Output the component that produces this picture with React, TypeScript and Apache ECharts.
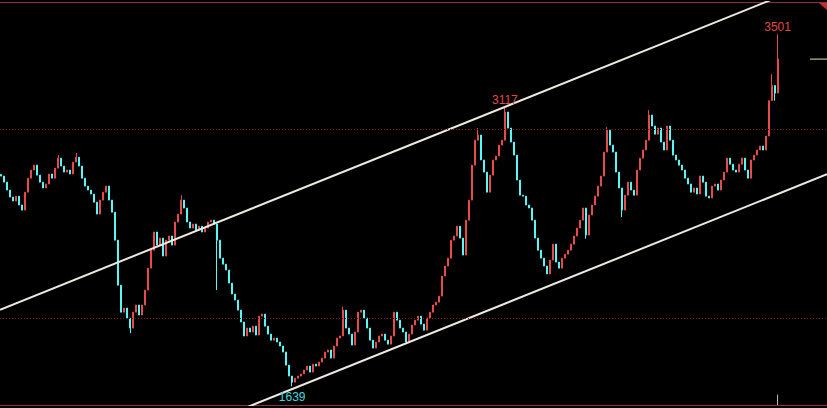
import React, { useEffect, useRef } from 'react';
import * as echarts from 'echarts';

// Closing prices, one per candle
const closes = [
  2751, 2719, 2677, 2640, 2619, 2645, 2598, 2571, 2666, 2740,
  2783, 2809, 2756, 2719, 2688, 2709, 2762, 2740, 2793, 2846,
  2804, 2772, 2783, 2762, 2825, 2851, 2804, 2740, 2698, 2677,
  2656, 2613, 2550, 2624, 2666, 2698, 2624, 2560, 2412, 2174,
  2031, 2053, 2000, 1947, 2031, 2069, 2016, 2069, 2148, 2264,
  2359, 2455, 2386, 2423, 2328, 2412, 2434, 2386, 2508, 2550,
  2624, 2582, 2508, 2476, 2497, 2465, 2486, 2455, 2476, 2508,
  2518, 2497, 2412, 2317, 2285, 2254, 2185, 2127, 2095, 2042,
  1979, 1905, 1947, 1926, 1957, 1910, 2010, 2021, 1957, 1915,
  1883, 1894, 1873, 1852, 1820, 1751, 1693, 1661, 1682, 1693,
  1704, 1725, 1746, 1714, 1756, 1746, 1767, 1788, 1820, 1831,
  1788, 1852, 1894, 1905, 2042, 1947, 1915, 1857, 1926, 2031,
  2042, 2000, 1947, 1883, 1841, 1873, 1905, 1915, 1883, 1862,
  1905, 2031, 1989, 1947, 1926, 1873, 1915, 1963, 1989, 2010,
  1968, 1936, 2000, 2031, 2069, 2084, 2116, 2222, 2275, 2317,
  2412, 2434, 2486, 2423, 2333, 2518, 2624, 2809, 2941, 2968,
  2836, 2772, 2666, 2756, 2836, 2857, 2915, 2941, 3090, 3005,
  2931, 2862, 2730, 2650, 2645, 2598, 2582, 2518, 2423, 2359,
  2317, 2275, 2233, 2307, 2391, 2296, 2264, 2317, 2338, 2359,
  2391, 2434, 2476, 2518, 2582, 2439, 2545, 2598, 2645, 2698,
  2751, 2878, 2994, 2915, 2878, 2772, 2688, 2571, 2650, 2719,
  2677, 2650, 2783, 2846, 2889, 2941, 3074, 3016, 2973, 3005,
  2931, 2889, 3016, 2941, 2862, 2836, 2809, 2783, 2740, 2709,
  2666, 2688, 2656, 2751, 2719, 2645, 2635, 2698, 2709, 2677,
  2730, 2772, 2846, 2814, 2783, 2772, 2814, 2846, 2783, 2740,
  2836, 2862, 2889, 2910, 2889, 2963, 3150, 3230, 3190, 3370,
];
const firstOpen = 2760;

// Wicks that stand out beyond the bodies
const highIdx = [19, 25, 60, 114, 159, 168, 202, 216, 257, 259];
const highVal = [2862, 2873, 2650, 2060, 3005, 3117, 3010, 3100, 3290, 3501];
const lowIdx = [43, 72, 97, 195, 207, 258];
const lowVal = [1920, 2148, 1639, 2420, 2534, 3150];

// Labelled extremes
const markIdx = [97, 168, 259];
const markVal = [1639, 3117, 3501];

// Dotted reference levels
const levels = [2000, 3000];

// Channel lines: [candle index, price]
const upperTrend = [[-0.5, 2044], [275.5, 3802]];
const lowerTrend = [[-0.5, 1003], [275.5, 2761]];

const slotCount = 276;
const yMin = 1540;
const yMax = 3672;

const UP = '#e84a4a';
const DOWN = '#54f8f8';
const BORDER = '#8a3040';

export default function App() {
  const ref = useRef<HTMLDivElement>(null);
  useEffect(() => {
    document.body.style.margin = '0';
    document.body.style.background = '#000';
    const chart = echarts.init(ref.current!, null, { renderer: 'svg' });
    const ohlc = closes.map((c, i) => {
      const o = i === 0 ? firstOpen : closes[i - 1];
      let lo = Math.min(o, c);
      let hi = Math.max(o, c);
      const hk = highIdx.indexOf(i);
      if (hk >= 0) hi = Math.max(hi, highVal[hk]);
      const lk = lowIdx.indexOf(i);
      if (lk >= 0) lo = Math.min(lo, lowVal[lk]);
      return [o, c, lo, hi];
    });
    const lastIdx = closes.length - 1;
    const lastClose = closes[lastIdx];
    const categories = Array.from({ length: slotCount }, (_, i) => String(i));

    chart.setOption({
      animation: false,
      backgroundColor: '#000',
      grid: { left: 0, right: 0, top: 2, bottom: 3, containLabel: false },
      xAxis: [
        {
          type: 'category',
          data: categories,
          boundaryGap: true,
          position: 'bottom',
          axisLine: { show: true, onZero: false, lineStyle: { color: BORDER, width: 1 } },
          axisTick: { show: false },
          axisLabel: { show: false },
          splitLine: { show: false },
        },
        {
          type: 'value',
          min: -0.5,
          max: slotCount - 0.5,
          position: 'top',
          axisLine: { show: true, onZero: false, lineStyle: { color: BORDER, width: 1 } },
          axisTick: { show: false },
          axisLabel: { show: false },
          splitLine: { show: false },
        },
      ],
      yAxis: {
        type: 'value',
        min: yMin,
        max: yMax,
        show: false,
        splitLine: { show: false },
      },
      series: [
        {
          type: 'candlestick',
          xAxisIndex: 0,
          data: ohlc,
          barMaxWidth: 2,
          itemStyle: {
            color: UP,
            color0: DOWN,
            borderColor: UP,
            borderColor0: DOWN,
            borderWidth: 1,
          },
          markLine: {
            silent: true,
            symbol: 'none',
            label: { show: false },
            lineStyle: { color: '#7a1c1c', type: [1, 2], width: 1 },
            data: levels.map((v) => ({ yAxis: v })),
          },
          markPoint: {
            silent: true,
            symbol: 'circle',
            symbolSize: 0,
            data: markIdx.map((idx, k) => ({
              coord: [idx, markVal[k]],
              value: markVal[k],
              label: {
                show: true,
                formatter: String(markVal[k]),
                position: k === 0 ? 'bottom' : 'top',
                distance: k === 0 ? 5 : 1,
                color: k === 0 ? '#3fdcdc' : '#e04848',
                fontFamily: 'Liberation Sans, Arial, sans-serif',
                fontSize: 12,
              },
            })),
          },
        },
        {
          type: 'line',
          xAxisIndex: 1,
          data: upperTrend,
          symbol: 'none',
          silent: true,
          clip: true,
          lineStyle: { color: '#eee8e0', width: 2 },
        },
        {
          type: 'line',
          xAxisIndex: 1,
          data: lowerTrend,
          symbol: 'none',
          silent: true,
          clip: true,
          lineStyle: { color: '#eee8e0', width: 2 },
        },
        {
          type: 'line',
          xAxisIndex: 1,
          data: [[269.8, lastClose], [slotCount - 0.5, lastClose]],
          symbol: 'none',
          silent: true,
          lineStyle: { color: '#e8e8a0', width: 1 },
        },
        {
          type: 'line',
          xAxisIndex: 1,
          data: [[lastIdx, yMin], [lastIdx, 1595]],
          symbol: 'none',
          silent: true,
          lineStyle: { color: '#bbbbbb', width: 1 },
        },
      ],
      graphic: [
        {
          type: 'polygon',
          shape: { points: [[819, 3], [827, 3], [827, 10]] },
          style: { fill: '#c03030' },
          silent: true,
        },
      ],
    });
    return () => chart.dispose();
  }, []);
  return (
    <div
      ref={ref}
      style={{ position: 'fixed', left: 0, top: 0, width: 827, height: 408 }}
    />
  );
}
